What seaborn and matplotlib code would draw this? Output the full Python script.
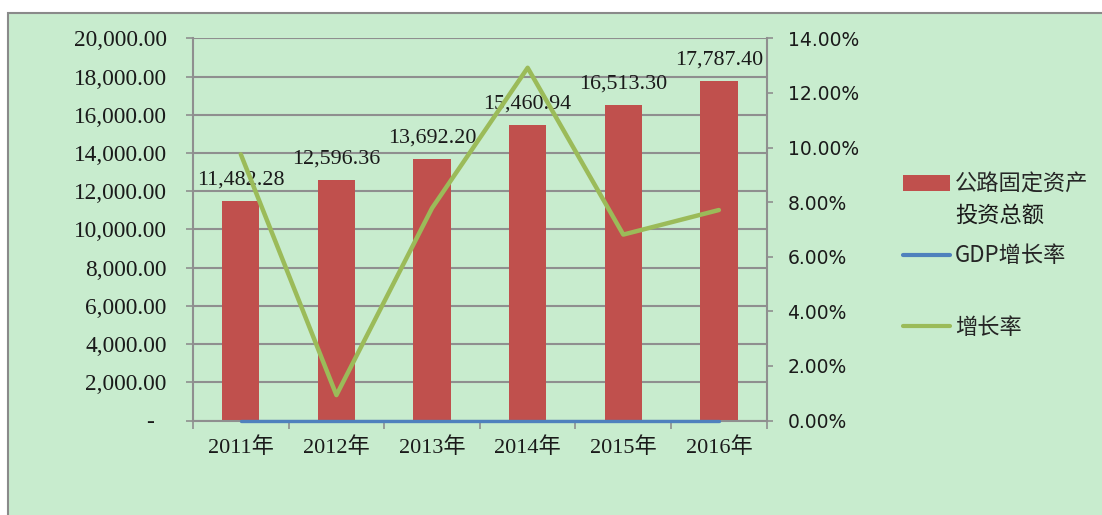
import numpy as np
import pandas as pd
import matplotlib.pyplot as plt
import matplotlib.ticker as mticker
from matplotlib.patches import Rectangle, Patch
from matplotlib.lines import Line2D
import seaborn as sns

years = ['2011年', '2012年', '2013年', '2014年', '2015年', '2016年']
investment = [11482.28, 12596.36, 13692.20, 15460.94, 16513.30, 17787.40]
growth = [9.75, 0.93, 7.78, 12.92, 6.81, 7.71]  # %
gdp_growth = [0, 0, 0, 0, 0, 0]  # %

bar_color = '#C0504D'
green = '#9BBB59'
blue = '#4F81BD'
grid_c = '#8f8f8f'
bg = '#C8ECCE'

sns.set_theme(style='white')
plt.rcParams['font.family'] = ['Liberation Serif', 'Noto Sans CJK SC', 'DejaVu Sans']

df = pd.DataFrame({'year': years, 'inv': investment,
                   'growth': np.array(growth) / 100, 'gdp': np.array(gdp_growth) / 100})

W, H = 1102, 515
fig = plt.figure(figsize=(W / 100, H / 100), dpi=100)
fig.patch.set_facecolor('white')
fig.add_artist(Rectangle((8 / W, -0.1), 1.2, 1.1 - 12.5 / H, transform=fig.transFigure,
                         facecolor=bg, edgecolor='#8a8a8a', lw=1.5, zorder=0))

ax = fig.add_axes([193 / W, 1 - 420.5 / H, (766.7 - 193) / W, (420.5 - 38.3) / H])
ax.set_facecolor('none')
sns.barplot(data=df, x='year', y='inv', color=bar_color, saturation=1, width=0.39,
            linewidth=0, ax=ax)
ax.set_ylim(0, 20000)
ax.yaxis.set_major_locator(mticker.MultipleLocator(2000))
ax.yaxis.set_major_formatter(mticker.FuncFormatter(lambda v, p: '-  ' if v == 0 else f'{v:,.2f}'))
ax.yaxis.grid(True, color=grid_c, lw=1.5)
ax.set_axisbelow(True)
ax.set_xlabel('')
ax.set_ylabel('')
for s in ['left', 'bottom']:
    ax.spines[s].set_color(grid_c)
    ax.spines[s].set_linewidth(1.5)
ax.spines['top'].set_visible(False)
ax.spines['right'].set_visible(False)
ax.tick_params(axis='y', direction='out', length=5, width=1.2, color=grid_c, pad=14,
               labelsize=16.8, labelcolor='#1a1a1a', left=True)

ax.bar_label(ax.containers[0], fmt='{:,.2f}', padding=8, fontsize=15.8,
             family='Liberation Serif', color='#1a1a1a')

ax2 = ax.twinx()
ax2.set_facecolor('none')
sns.lineplot(data=df, x='year', y='growth', color=green, lw=3.2, sort=False, ax=ax2)
sns.lineplot(data=df, x='year', y='gdp', color=blue, lw=2.4, sort=False, ax=ax2,
             clip_on=False, zorder=5)
ax2.set_ylim(0, 0.14)
ax2.yaxis.set_major_locator(mticker.MultipleLocator(0.02))
ax2.yaxis.set_major_formatter(mticker.PercentFormatter(xmax=1, decimals=2))
ax2.set_ylabel('')
ax2.set_xlabel('')
for s in ['left', 'top', 'bottom']:
    ax2.spines[s].set_visible(False)
ax2.spines['right'].set_color(grid_c)
ax2.spines['right'].set_linewidth(1.5)
ax2.tick_params(axis='y', direction='out', length=4, width=1.2, color=grid_c, pad=11,
                labelsize=13.5, labelcolor='#1a1a1a', right=True, labelfontfamily='DejaVu Sans')

# x ticks: marks between categories, labels at category centres
ax.set_xlim(-0.5, len(years) - 0.5)
ax.set_xticks(np.arange(-0.5, len(years)))
ax.set_xticklabels([''] * (len(years) + 1))
ax.set_xticks(np.arange(len(years)), minor=True)
ax.set_xticklabels(years, minor=True)
ax.tick_params(axis='x', which='major', direction='out', length=5.5, width=1.2,
               color=grid_c, bottom=True)
ax.tick_params(axis='x', which='minor', length=0, pad=12, labelsize=16, labelcolor='#1a1a1a')

# legend
prop = {'family': ['Noto Sans CJK SC'], 'size': 16}
leg_kw = dict(loc='center left', frameon=False, prop=prop, handlelength=2.1,
              handletextpad=0.25, borderpad=0, borderaxespad=0)
fig.legend(handles=[Patch(facecolor=bar_color, edgecolor='none')], labels=['公路固定资产'],
           bbox_to_anchor=(903 / W, 1 - 184 / H), **leg_kw)
fig.text(955 / W, 1 - 215 / H, '投资总额', va='center', ha='left', fontsize=16,
         family=['Noto Sans CJK SC'], color='#1a1a1a')
fig.legend(handles=[Line2D([], [], color=blue, lw=3)], labels=['GDP增长率'],
           bbox_to_anchor=(903 / W, 1 - 256 / H), **leg_kw)
fig.legend(handles=[Line2D([], [], color=green, lw=3)], labels=['增长率'],
           bbox_to_anchor=(903 / W, 1 - 327 / H), **leg_kw)

fig.savefig('out.png', dpi=100)
